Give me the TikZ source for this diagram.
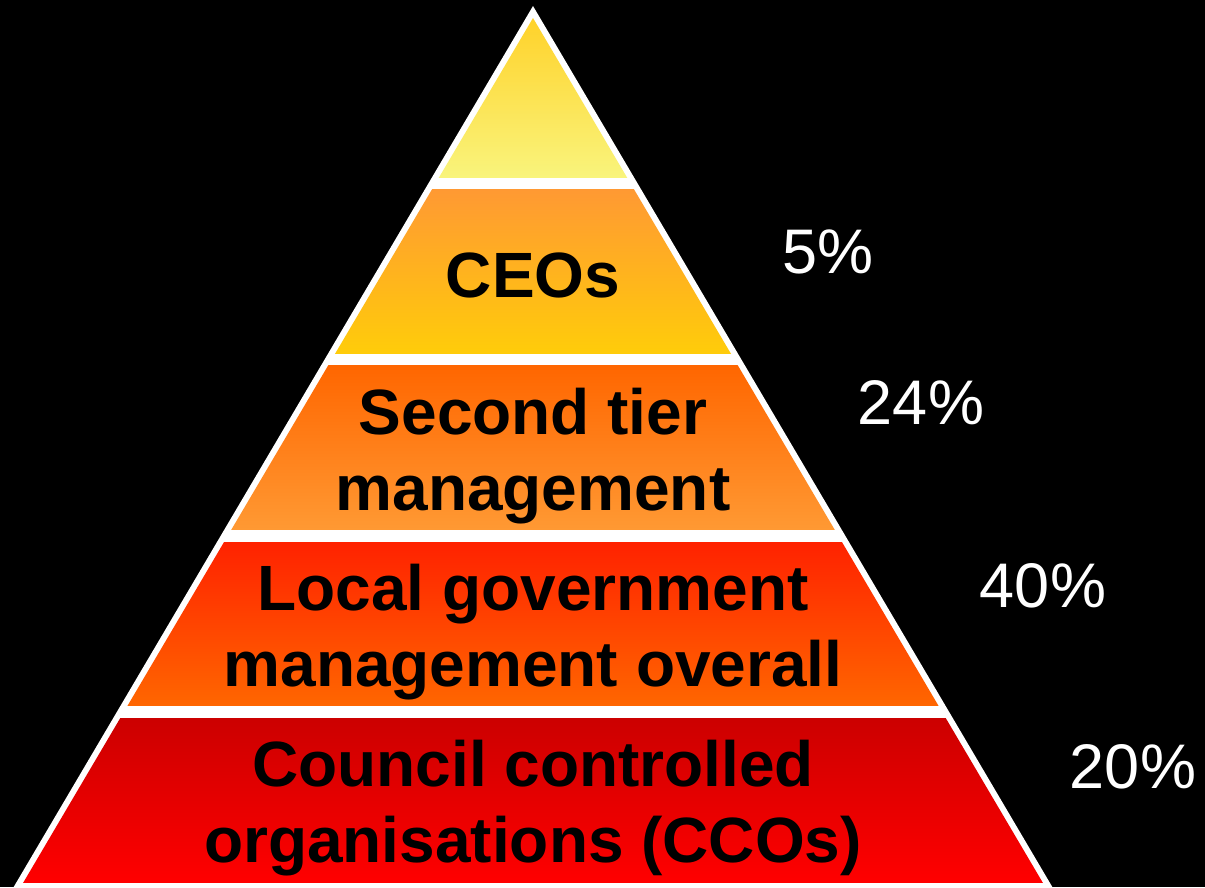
\documentclass[tikz,border=0pt]{standalone}
\usepackage{fontspec}
\setmainfont{Liberation Sans}
\definecolor{topyellow}{HTML}{FFD22A}
\definecolor{paleyellow}{HTML}{F9F47C}
\definecolor{lightorange}{HTML}{FF9933}
\definecolor{goldyellow}{HTML}{FFCC0A}
\definecolor{deeporange}{HTML}{FF6600}
\definecolor{redorange}{HTML}{FF2200}
\definecolor{darkred}{HTML}{CC0000}
\definecolor{brightred}{HTML}{FF0000}
\begin{document}
\begin{tikzpicture}[
    x=1pt, y=-1pt,
    tierlabel/.style={font=\fontsize{64}{76}\selectfont\bfseries, align=center, anchor=base, inner sep=0pt},
    share/.style={font=\fontsize{63}{76}\selectfont, text=white, anchor=base, inner sep=0pt}
  ]
    \useasboundingbox (0,0) rectangle (1205,887);
    % Background
    \fill[black] (0,0) rectangle (1205,887);
    \clip (0,0) rectangle (1205,887);

    % Pyramid outline
    \fill[white] (533,6) -- (1060,900) -- (6,900) -- cycle;

    % Tiers
    \begin{scope}
      \clip (533,18) -- (1053,900) -- (13,900) -- cycle;
      \shade[top color=topyellow, bottom color=paleyellow] (0,18) rectangle (1205,177);
      \shade[top color=lightorange, bottom color=goldyellow] (0,189) rectangle (1205,353);
      \shade[top color=deeporange, bottom color=lightorange] (0,365) rectangle (1205,529);
      \shade[top color=redorange, bottom color=deeporange] (0,542) rectangle (1205,705);
      \shade[top color=darkred, bottom color=brightred] (0,718) rectangle (1205,882);
    \end{scope}

    % Tier labels (base = last line)
    \node[tierlabel] (ceos) at (533,297) {CEOs};
    \node[tierlabel] (second) at (533,510) {Second tier\\management};
    \node[tierlabel] (localgov) at (533,686) {Local government\\management overall};
    \node[tierlabel] (cco) at (533,862) {Council controlled\\organisations (CCOs)};

    % Shares
    \node[share] (p5) at (828,273) {5\%};
    \node[share] (p24) at (921,424) {24\%};
    \node[share] (p40) at (1043,607) {40\%};
    \node[share] (p20) at (1133,788) {20\%};
  \end{tikzpicture}
\end{document}
